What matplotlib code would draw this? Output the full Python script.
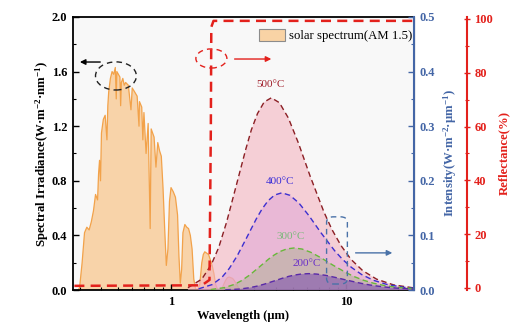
import matplotlib
matplotlib.use("Agg")
import matplotlib.pyplot as plt
from matplotlib.patches import Ellipse, FancyBboxPatch, Patch
from matplotlib.ticker import LogLocator, MultipleLocator, NullFormatter, FixedLocator, FixedFormatter

# ---------------- data ----------------
solar_wl = [0.295, 0.30, 0.31, 0.32, 0.33, 0.34, 0.35, 0.36, 0.37, 0.38, 0.385, 0.39, 0.395,
            0.40, 0.41, 0.42, 0.43, 0.435, 0.44, 0.45, 0.46, 0.47, 0.48, 0.486, 0.49, 0.50,
            0.51, 0.515, 0.52, 0.53, 0.54, 0.55, 0.57, 0.59, 0.60, 0.62, 0.64, 0.656, 0.66,
            0.68, 0.69, 0.70, 0.72, 0.74, 0.76, 0.77, 0.80, 0.82, 0.84, 0.86, 0.88, 0.90,
            0.92, 0.94, 0.96, 0.98, 1.00, 1.03, 1.06, 1.09, 1.11, 1.13, 1.15, 1.17, 1.20,
            1.23, 1.26, 1.29, 1.32, 1.35, 1.38, 1.42, 1.46, 1.50, 1.53, 1.56, 1.60, 1.64,
            1.68, 1.72, 1.76, 1.80, 1.84, 1.88, 1.92, 1.96, 2.00, 2.05, 2.10, 2.15, 2.20,
            2.25, 2.30, 2.35, 2.40, 2.45, 2.50]
solar_irr = [0.0, 0.02, 0.20, 0.42, 0.46, 0.44, 0.50, 0.58, 0.70, 0.66, 0.85, 0.95, 0.80,
             1.15, 1.25, 1.28, 1.10, 1.35, 1.45, 1.55, 1.60, 1.58, 1.63, 1.40, 1.60, 1.58,
             1.56, 1.35, 1.52, 1.55, 1.50, 1.52, 1.50, 1.32, 1.48, 1.45, 1.42, 1.20, 1.38,
             1.34, 1.10, 1.30, 1.00, 1.22, 0.45, 1.18, 1.12, 0.90, 1.08, 1.02, 0.98, 0.75,
             0.45, 0.18, 0.30, 0.65, 0.75, 0.72, 0.68, 0.55, 0.25, 0.05, 0.15, 0.42, 0.48,
             0.46, 0.45, 0.40, 0.30, 0.08, 0.01, 0.0, 0.04, 0.20, 0.26, 0.28, 0.27, 0.26,
             0.22, 0.18, 0.12, 0.04, 0.01, 0.0, 0.0, 0.01, 0.04, 0.07, 0.09, 0.095, 0.09,
             0.085, 0.07, 0.05, 0.03, 0.01, 0.0]

refl_wl = [0.28, 1.50, 1.66, 1.69, 1.70, 1.75, 25.0]
refl_val = [0.8, 1.0, 3.0, 60.0, 97.0, 99.3, 99.3]

bb500_wl = [1.25, 1.50, 1.70, 1.875, 2.08, 2.34, 2.68, 2.88, 3.125, 3.41, 3.75, 4.17, 4.69,
            5.36, 6.25, 7.5, 8.33, 9.375, 10.71, 12.5, 15.0, 18.75, 25.0]
bb500_val = [0.0042, 0.0200, 0.0466, 0.0780, 0.1244, 0.1865, 0.2583, 0.2931, 0.3232, 0.3442,
             0.352, 0.3430, 0.3151, 0.2689, 0.2086, 0.1427, 0.1108, 0.0816, 0.0561, 0.0354,
             0.0199, 0.0094, 0.0034]
bb400_wl = [1.437, 1.724, 1.959, 2.155, 2.394, 2.694, 3.079, 3.315, 3.592, 3.918, 4.31, 4.789,
            5.388, 6.157, 7.183, 8.62, 9.578, 10.78, 12.31, 14.37, 17.24, 21.55, 28.73]
bb400_val = [0.0021, 0.0101, 0.0235, 0.0395, 0.0629, 0.0943, 0.1306, 0.1482, 0.1635, 0.1740,
             0.178, 0.1734, 0.1594, 0.1360, 0.1055, 0.0722, 0.0561, 0.0413, 0.0284, 0.0179,
             0.0101, 0.0048, 0.0017]
bb300_wl = [1.687, 2.024, 2.30, 2.53, 2.811, 3.163, 3.614, 3.892, 4.217, 4.60, 5.06, 5.622,
            6.325, 7.229, 8.433, 10.12, 11.24, 12.65, 14.46, 16.87, 20.24, 25.3, 33.7]
bb300_val = [0.0009, 0.0044, 0.0102, 0.0171, 0.0272, 0.0408, 0.0565, 0.0641, 0.0707, 0.0753,
             0.077, 0.0750, 0.0689, 0.0588, 0.0456, 0.0312, 0.0242, 0.0178, 0.0123, 0.0078,
             0.0044, 0.0021, 0.0008]
bb200_wl = [2.043, 2.452, 2.786, 3.065, 3.406, 3.831, 4.379, 4.715, 5.108, 5.573, 6.13, 6.811,
            7.663, 8.757, 10.22, 12.26, 13.62, 15.33, 17.51, 20.43, 24.52, 30.65, 40.9]
bb200_val = [0.0004, 0.0017, 0.0040, 0.0067, 0.0106, 0.0159, 0.0220, 0.0250, 0.0275, 0.0293,
             0.030, 0.0292, 0.0269, 0.0229, 0.0178, 0.0122, 0.0094, 0.0070, 0.0048, 0.0030,
             0.0017, 0.0008, 0.0003]

temp_labels = ["500°C", "400°C", "300°C", "200°C"]
temp_label_pos = [(3.70, 0.368), (4.20, 0.190), (4.85, 0.090), (6.0, 0.040)]

x_ticks = [1, 10]
x_ticklabels = ["1", "10"]

# ---------------- style ----------------
plt.rcParams['font.family'] = ['Liberation Serif', 'DejaVu Serif']
plt.rcParams['font.weight'] = 'bold'
plt.rcParams['mathtext.fontset'] = 'custom'
plt.rcParams['mathtext.rm'] = 'Liberation Serif:bold'
plt.rcParams['mathtext.it'] = 'Liberation Serif:bold'
plt.rcParams['mathtext.bf'] = 'Liberation Serif:bold'
plt.rcParams['mathtext.default'] = 'bf'

BLUE = '#4466a6'
RED = '#e3211c'

fig = plt.figure(figsize=(5.16, 3.34), dpi=100)
ax = fig.add_axes([0.1415, 0.1317, 0.6605, 0.8175])
ax.set_facecolor('#f8f8f8')

# solar spectrum
ax.fill_between(solar_wl, 0, solar_irr, facecolor='#f9cd9b', edgecolor='none', alpha=0.85, zorder=1)
ax.plot(solar_wl, solar_irr, color='#f2a24a', lw=0.9, zorder=2)
ax.set_xscale('log')
ax.set_xlim(0.275, 24.5)
ax.set_ylim(0, 2.0)
ax.yaxis.set_major_locator(MultipleLocator(0.4))
ax.yaxis.set_minor_locator(MultipleLocator(0.2))
ax.xaxis.set_major_locator(FixedLocator(x_ticks))
ax.xaxis.set_major_formatter(FixedFormatter(x_ticklabels))
ax.xaxis.set_minor_locator(LogLocator(base=10, subs=range(2, 10), numticks=20))
ax.xaxis.set_minor_formatter(NullFormatter())
ax.tick_params(axis='both', which='major', direction='in', length=4, width=1, labelsize=9, pad=4)
ax.tick_params(axis='both', which='minor', direction='in', length=2.5, width=0.8)
ax.tick_params(axis='y', which='both', right=False)
for s in ['left', 'bottom', 'top']:
    ax.spines[s].set_linewidth(1.3)
ax.set_ylabel('Spectral Irradiance(W·m$^{-2}$·nm$^{-1}$)', fontsize=9.2, fontweight='bold', labelpad=1)
ax.set_xlabel('Wavelength (μm)', fontsize=9, fontweight='bold', labelpad=2)

leg = ax.legend(handles=[Patch(facecolor='#f9d3a5', edgecolor='#8c8c8c', linewidth=0.8)],
                labels=['solar spectrum(AM 1.5)'], loc='upper right',
                bbox_to_anchor=(1.03, 0.997), frameon=False,
                prop={'family': 'Liberation Serif', 'size': 9.2, 'weight': 'normal'},
                handlelength=2.0, handleheight=1.0, handletextpad=0.35)

# blackbody axis
ax2 = ax.twinx()
ax2.set_ylim(0, 0.5)
ax2.yaxis.set_major_locator(MultipleLocator(0.1))
ax2.yaxis.set_minor_locator(MultipleLocator(0.05))
ax2.tick_params(axis='y', which='major', direction='in', length=4, width=1, colors=BLUE, labelsize=9, pad=4)
ax2.tick_params(axis='y', which='minor', direction='in', length=2.5, width=0.8, colors=BLUE)
ax2.spines['right'].set_color(BLUE)
ax2.spines['right'].set_linewidth(1.5)
for s in ['left', 'top', 'bottom']:
    ax2.spines[s].set_visible(False)
ax2.set_ylabel('Intensity(W·m$^{-2}$·μm$^{-1}$)', color=BLUE, fontsize=9.2, fontweight='bold', labelpad=5)

curves = [(bb500_wl, bb500_val, '#f4b4c0', 0.6, '#8b1f24'),
          (bb400_wl, bb400_val, '#dc9ed6', 0.45, '#3c2fd0'),
          (bb300_wl, bb300_val, '#a7b08c', 0.45, '#68b83a'),
          (bb200_wl, bb200_val, '#7a4caf', 0.55, '#5a2aa8')]
for wl, val, fc, a, lc in curves:
    ax2.fill_between(wl, 0, val, facecolor=fc, alpha=a, edgecolor='none', zorder=1)
    ax2.plot(wl, val, color=lc, lw=1.0, ls=(0, (4, 2.5)), zorder=2)

label_colors = ['#a01f2a', '#3a2ed8', '#7ab87a', '#6a2fc8']
for t, (lx, ly), c in zip(temp_labels, temp_label_pos, label_colors):
    ax2.text(lx, ly, t, color=c, fontsize=8, fontweight='normal', ha='center', va='bottom')

# reflectance axis
ax3 = ax.twinx()
ax3.spines['right'].set_position(('outward', 38))
ax3.set_ylim(-0.75, 100.75)
ax3.yaxis.set_major_locator(MultipleLocator(20))
ax3.yaxis.set_minor_locator(MultipleLocator(10))
ax3.tick_params(axis='y', which='major', direction='inout', length=5, width=1, colors=RED, labelsize=9, pad=3)
ax3.tick_params(axis='y', which='minor', direction='inout', length=3, width=0.8, colors=RED)
ax3.spines['right'].set_color(RED)
ax3.spines['right'].set_linewidth(1.5)
for s in ['left', 'top', 'bottom']:
    ax3.spines[s].set_visible(False)
ax3.set_ylabel('Reflectance(%)', color=RED, fontsize=9.2, fontweight='bold', labelpad=4)
ax3.plot(refl_wl, refl_val, color=RED, lw=1.8, ls=(0, (4, 2.5)), zorder=5, clip_on=False)

# annotations (axes-fraction coordinates)
ax3.add_patch(Ellipse((0.126, 0.784), 0.120, 0.103, transform=ax.transAxes, fill=False,
                      edgecolor='#222222', lw=1.0, ls=(0, (4, 3))))
ax3.annotate('', xy=(0.012, 0.835), xytext=(0.088, 0.835), xycoords=ax.transAxes,
             arrowprops=dict(arrowstyle='-|>', color='black', lw=1.0, mutation_scale=8))
ax3.add_patch(Ellipse((0.406, 0.848), 0.091, 0.070, transform=ax.transAxes, fill=False,
                      edgecolor=RED, lw=1.0, ls=(0, (4, 3))))
ax3.annotate('', xy=(0.59, 0.846), xytext=(0.466, 0.846), xycoords=ax.transAxes,
             arrowprops=dict(arrowstyle='-|>', color=RED, lw=1.0, mutation_scale=8))
ax3.add_patch(FancyBboxPatch((0.752, 0.03), 0.045, 0.23, boxstyle='round,pad=0.008,rounding_size=0.02',
                             transform=ax.transAxes, fill=False, edgecolor='#4a72a8', lw=1.0,
                             ls=(0, (4, 3))))
ax3.annotate('', xy=(0.945, 0.136), xytext=(0.821, 0.136), xycoords=ax.transAxes,
             arrowprops=dict(arrowstyle='-|>', color='#4a72a8', lw=1.0, mutation_scale=8))

fig.savefig('out.png', dpi=100)
